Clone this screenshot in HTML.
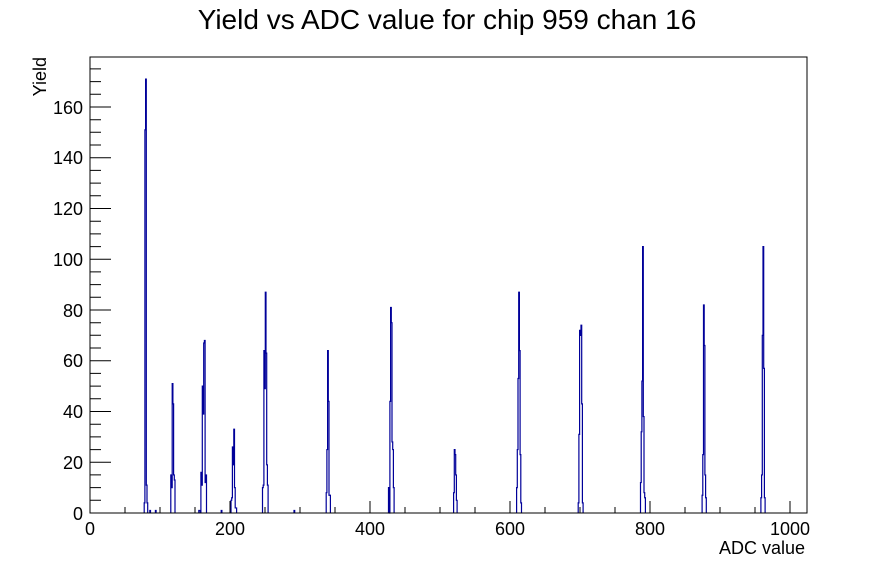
<!DOCTYPE html>
<html><head><meta charset="utf-8"><style>
body{margin:0;background:#fff}
svg{display:block;font-family:"Liberation Sans",Arial,sans-serif}
</style></head><body>
<svg width="896" height="572" viewBox="0 0 896 572" xmlns="http://www.w3.org/2000/svg">
<rect width="896" height="572" fill="#fff"/>
<text x="447" y="29" font-size="28" text-anchor="middle">Yield vs ADC value for chip 959 chan 16</text>
<g transform="translate(91,513) scale(0.7,-2.5375)">
<path fill="none" stroke="#000099" stroke-width="1.2" vector-effect="non-scaling-stroke" d="
M76,0 V4 H77 V151 H78 V171 H79 V11 H80 V4 H81 V0
M84,0 V1 H85 V0 M92,0 V1 H93 V0
M114,0 V15 H115 V10 H116 V51 H117 V43 H118 V15 H119 V13 H120 V0
M154,0 V1 H156 V0
M157,0 V16 H158 V11 H159 V50 H160 V39 H161 V67 H162 V68 H163 V12 H164 V15 H165 V0
M186,0 V1 H187 V0
M200,0 V5 H201 V6 H202 V26 H203 V19 H204 V33 H205 V10 H206 V2 H208 V0
M245,0 V10 H246 V11 H247 V64 H248 V49 H249 V87 H250 V63 H251 V19 H252 V11 H253 V0
M290,0 V1 H291 V0
M336,0 V8 H337 V25 H338 V64 H339 V44 H340 V7 H342 V0
M425,0 V10 H426 V0 H427 V44 H428 V81 H429 V75 H430 V28 H431 V25 H432 V10 H433 V0
M518,0 V8 H519 V25 H520 V23 H521 V15 H522 V5 H523 V0
M608,0 V10 H609 V25 H610 V53 H611 V87 H612 V64 H613 V23 H614 V4 H615 V0
M696,0 V4 H697 V31 H698 V72 H699 V70 H700 V74 H701 V43 H702 V4 H703 V0
M785,0 V12 H786 V32 H787 V52 H788 V105 H789 V38 H790 V8 H791 V6 H792 V0
M873,0 V7 H874 V23 H875 V82 H876 V66 H877 V15 H878 V6 H879 V0
M957,0 V6 H958 V15 H959 V70 H960 V105 H961 V57 H962 V6 H963 V0
"/>
</g>
<rect x="90" y="57" width="717" height="456" fill="none" stroke="#000" stroke-width="1"/>
<g stroke="#000" stroke-width="1">
<path d="M90,513v-12 M230,513v-12 M370,513v-12 M510,513v-12 M650,513v-12 M790,513v-12
M125,513v-6 M160,513v-6 M195,513v-6 M265,513v-6 M300,513v-6 M335,513v-6 M405,513v-6 M440,513v-6 M475,513v-6 M545,513v-6 M580,513v-6 M615,513v-6 M685,513v-6 M720,513v-6 M755,513v-6"/>
<path d="M90,513h21 M90,462.25h21 M90,411.5h21 M90,360.75h21 M90,310h21 M90,259.25h21 M90,208.5h21 M90,157.75h21 M90,107h21"/>
<path d="M90,500.3h11 M90,487.6h11 M90,474.9h11 M90,449.6h11 M90,436.9h11 M90,424.2h11 M90,398.8h11 M90,386.1h11 M90,373.4h11 M90,348h11 M90,335.3h11 M90,322.7h11 M90,297.3h11 M90,284.6h11 M90,271.9h11 M90,246.6h11 M90,233.9h11 M90,221.2h11 M90,195.8h11 M90,183.1h11 M90,170.4h11 M90,145h11 M90,132.3h11 M90,119.7h11 M90,94.3h11 M90,81.6h11 M90,68.9h11"/>
</g>
<g font-size="18" text-anchor="middle">
<text x="90" y="535">0</text><text x="230" y="535">200</text><text x="370" y="535">400</text><text x="510" y="535">600</text><text x="650" y="535">800</text><text x="790" y="535">1000</text>
</g>
<g font-size="18" text-anchor="end">
<text x="83" y="520">0</text><text x="83" y="469">20</text><text x="83" y="418">40</text><text x="83" y="367">60</text><text x="83" y="317">80</text><text x="83" y="266">100</text><text x="83" y="215">120</text><text x="83" y="164">140</text><text x="83" y="114">160</text>
</g>
<text x="805" y="554" font-size="18" text-anchor="end">ADC value</text>
<text transform="translate(46,57) rotate(-90)" font-size="18" text-anchor="end">Yield</text>
</svg>
</body></html>
